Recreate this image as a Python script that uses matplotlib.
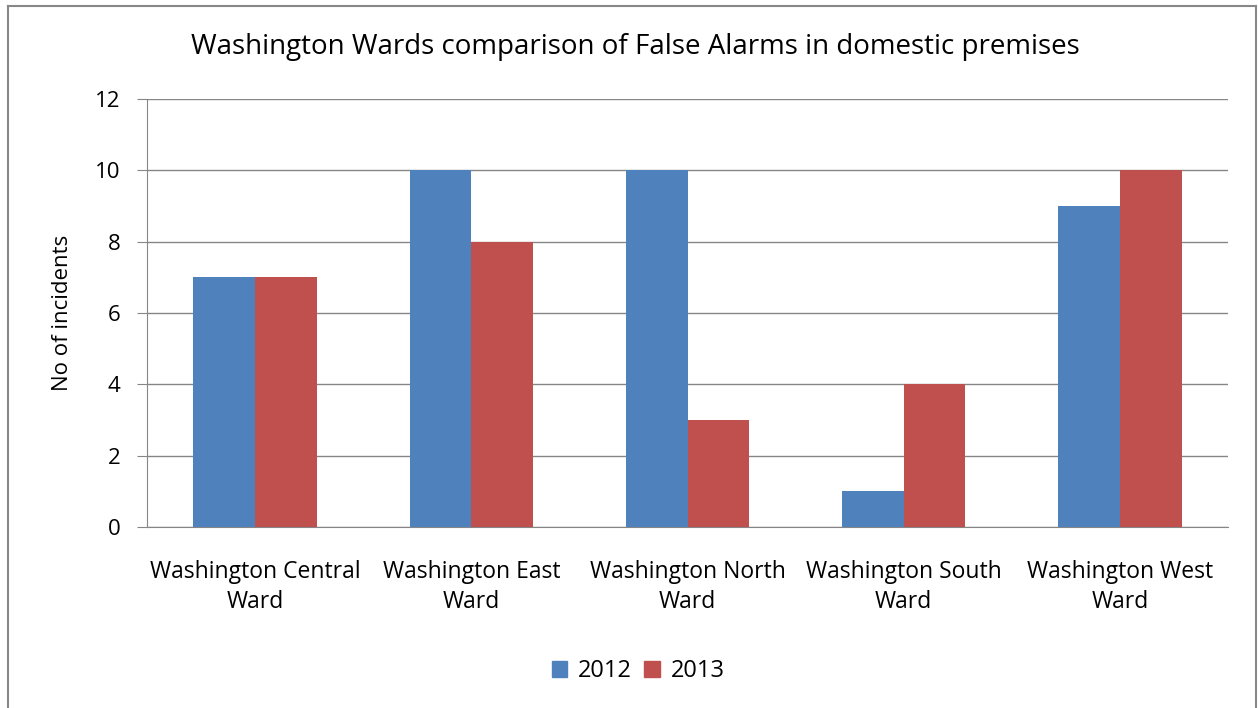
import matplotlib
matplotlib.use("Agg")
import matplotlib.pyplot as plt
import numpy as np
from matplotlib.patches import Rectangle
from matplotlib.lines import Line2D

categories = ["Washington Central\nWard", "Washington East\nWard", "Washington North\nWard",
              "Washington South\nWard", "Washington West\nWard"]
series_names = ["2012", "2013"]
values_2012 = [7, 10, 10, 1, 9]
values_2013 = [7, 8, 3, 4, 10]
yticks = [0, 2, 4, 6, 8, 10, 12]
title = "Washington Wards comparison of False Alarms in domestic premises"
ylabel = "No of incidents"

c2012 = "#4F81BD"
c2013 = "#C0504D"
grid_c = "#868686"

plt.rcParams['font.family'] = ['Open Sans', 'DejaVu Sans']

W, H = 1258, 708
fig = plt.figure(figsize=(W / 100, H / 100), dpi=100)

# outer chart border (no bottom edge visible)
fig.add_artist(Line2D([8 / W, 8 / W], [0, 1 - 6 / H], transform=fig.transFigure, color="#888888", lw=1.5))
fig.add_artist(Line2D([8 / W, 1256 / W], [1 - 6 / H, 1 - 6 / H], transform=fig.transFigure, color="#888888", lw=1.5))
fig.add_artist(Line2D([1256 / W, 1256 / W], [0, 1 - 6 / H], transform=fig.transFigure, color="#888888", lw=1.5))

left, right, top, bottom = 147, 1228, 99, 527
ax = fig.add_axes([left / W, 1 - bottom / H, (right - left) / W, (bottom - top) / H])

x = np.arange(len(categories))
bw = 0.2857
ax.bar(x - bw / 2, values_2012, bw, color=c2012, label=series_names[0], zorder=3)
ax.bar(x + bw / 2, values_2013, bw, color=c2013, label=series_names[1], zorder=3)

ax.set_xlim(-0.5, len(categories) - 0.5)
ax.set_ylim(0, 12)
ax.set_yticks(yticks)
ax.set_yticklabels([str(v) for v in yticks], fontsize=16)
ax.yaxis.grid(True, color=grid_c, lw=1, zorder=0)
ax.set_xticks(x)
ax.set_xticklabels(categories, fontsize=16.5, linespacing=1.3)
ax.tick_params(axis='x', length=0, pad=24)
ax.tick_params(axis='y', length=7, color=grid_c, pad=12)
for s in ["top", "right"]:
    ax.spines[s].set_visible(False)
ax.spines["left"].set_color(grid_c)
ax.spines["bottom"].set_color(grid_c)
ax.set_ylabel(ylabel, fontsize=16, labelpad=16)

fig.text(635 / W, 1 - 47 / H, title, fontsize=20, ha="center", va="center")

handles = [Rectangle((0, 0), 1, 1, color=c2012), Rectangle((0, 0), 1, 1, color=c2013)]
fig.legend(handles, series_names, loc="center", bbox_to_anchor=(638 / W, 1 - 671 / H), ncol=2,
           frameon=False, fontsize=17, handlelength=0.65, handleheight=0.65, handletextpad=0.45,
           columnspacing=0.55)

fig.savefig("out.png", dpi=100)
